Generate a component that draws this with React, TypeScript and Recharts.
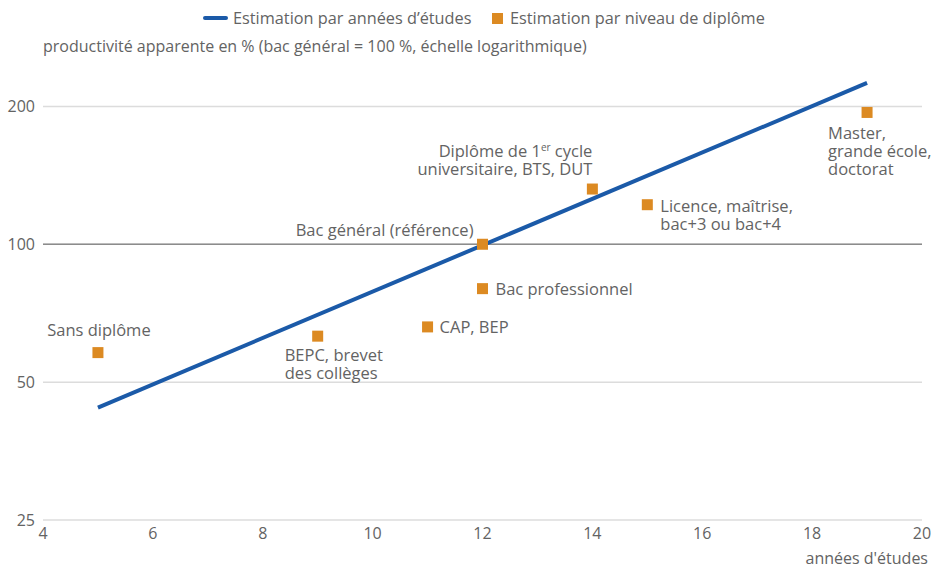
import React from 'react';
import { ComposedChart, Line, Scatter, XAxis, YAxis, CartesianGrid, ReferenceLine } from 'recharts';

// années d'études -> productivité estimée (droite)
const lineYears = [5, 19];
const lineValues = [44, 225];

// estimation par niveau de diplôme
const degreeNames = [
  'Sans diplôme',
  'BEPC, brevet des collèges',
  'CAP, BEP',
  'Bac professionnel',
  'Bac général (référence)',
  'Diplôme de 1er cycle universitaire, BTS, DUT',
  'Licence, maîtrise, bac+3 ou bac+4',
  'Master, grande école, doctorat',
];
const degreeYears = [5, 9, 11, 12, 12, 14, 15, 19];
const degreeValues = [58, 63, 66, 80, 100, 132, 122, 194];

const xTicks = [4, 6, 8, 10, 12, 14, 16, 18, 20];
const yTicks = [25, 50, 100, 200];

const BLUE = '#1b5aa8';
const ORANGE = '#dc8a22';
const TEXT = '#636363';
const FONT = '"Open Sans", sans-serif';

// how each point label is placed around its marker
const labelLayout: Record<string, { lines: React.ReactNode[]; anchor: 'start' | 'middle' | 'end'; dx: number; dy: number }> = {
  'Sans diplôme': { lines: ['Sans diplôme'], anchor: 'middle', dx: 1, dy: -22 },
  'BEPC, brevet des collèges': { lines: ['BEPC, brevet', 'des collèges'], anchor: 'start', dx: -33, dy: 19 },
  'CAP, BEP': { lines: ['CAP, BEP'], anchor: 'start', dx: 12, dy: 0 },
  'Bac professionnel': { lines: ['Bac professionnel'], anchor: 'start', dx: 13, dy: 1 },
  'Bac général (référence)': { lines: ['Bac général (référence)'], anchor: 'end', dx: -9, dy: -14 },
  'Diplôme de 1er cycle universitaire, BTS, DUT': {
    lines: [
      <>Diplôme de 1<tspan fontSize={10} dy={-6}>er</tspan><tspan dy={6}> cycle</tspan></>,
      'universitaire, BTS, DUT',
    ],
    anchor: 'end', dx: 0, dy: -38,
  },
  'Licence, maîtrise, bac+3 ou bac+4': { lines: ['Licence, maîtrise,', 'bac+3 ou bac+4'], anchor: 'start', dx: 13, dy: 2 },
  'Master, grande école, doctorat': { lines: ['Master,', 'grande école,', 'doctorat'], anchor: 'start', dx: -39, dy: 21 },
};

const lineData = lineYears.map((x, i) => ({ x, y: lineValues[i] }));
const degreeData = degreeNames.map((name, i) => ({ name, x: degreeYears[i], y: degreeValues[i] }));

const DegreePoint = (props: any) => {
  const { cx, cy, payload } = props;
  const lay = labelLayout[payload.name];
  const tx = cx + lay.dx;
  return (
    <g>
      <rect x={cx - 5.5} y={cy - 5.5} width={11} height={11} fill={ORANGE} />
      <text textAnchor={lay.anchor} fontFamily={FONT} fontSize={16.5} fill={TEXT}>
        {lay.lines.map((l, i) => (
          <tspan key={i} x={tx} y={cy + lay.dy + i * 18} dy="0.35em">{l}</tspan>
        ))}
      </text>
    </g>
  );
};

export default function App() {
  return (
    <div style={{ position: 'absolute', left: 0, top: 0, width: 933, height: 565, background: '#fff', fontFamily: FONT, color: TEXT }}>
      <div style={{ position: 'absolute', left: 203, top: 16, width: 25, height: 4, background: BLUE, borderRadius: 2 }} />
      <div style={{ position: 'absolute', left: 233, top: 7, fontSize: 16.3, lineHeight: '22px', whiteSpace: 'nowrap' }}>Estimation par années d’études</div>
      <div style={{ position: 'absolute', left: 492, top: 13, width: 11, height: 11, background: ORANGE }} />
      <div style={{ position: 'absolute', left: 510, top: 7, fontSize: 16.3, lineHeight: '22px', whiteSpace: 'nowrap' }}>Estimation par niveau de diplôme</div>
      <div style={{ position: 'absolute', left: 43, top: 35, fontSize: 16, lineHeight: '22px', whiteSpace: 'nowrap' }}>
        productivité apparente en % (bac général = 100 %, échelle logarithmique)
      </div>
      <ComposedChart width={933} height={565} margin={{ top: 62, right: 11, left: 0, bottom: 0 }}>
        <CartesianGrid horizontal vertical={false} stroke="#dcdcdc" strokeWidth={1.5} horizontalValues={yTicks} />
        <XAxis
          type="number"
          dataKey="x"
          domain={[4, 20]}
          ticks={xTicks}
          axisLine={false}
          tickLine={false}
          height={45}
          tick={{ fontFamily: FONT, fontSize: 16, fill: TEXT }}
          label={{ value: "années d'études", position: 'insideBottomRight', offset: 0, dx: 6, dy: -1, style: { fontFamily: FONT, fontSize: 16, fill: TEXT } }}
        />
        <YAxis
          type="number"
          scale="log"
          domain={[25, 250]}
          ticks={yTicks}
          allowDataOverflow
          axisLine={false}
          tickLine={false}
          width={43}
          tick={{ fontFamily: FONT, fontSize: 16, fill: TEXT }}
        />
        <ReferenceLine y={100} stroke="#8c8c8c" strokeWidth={1.5} />
        <Line data={lineData} dataKey="y" stroke={BLUE} strokeWidth={4} dot={false} isAnimationActive={false} />
        <Scatter data={degreeData} dataKey="y" shape={DegreePoint} isAnimationActive={false} />
      </ComposedChart>
    </div>
  );
}
